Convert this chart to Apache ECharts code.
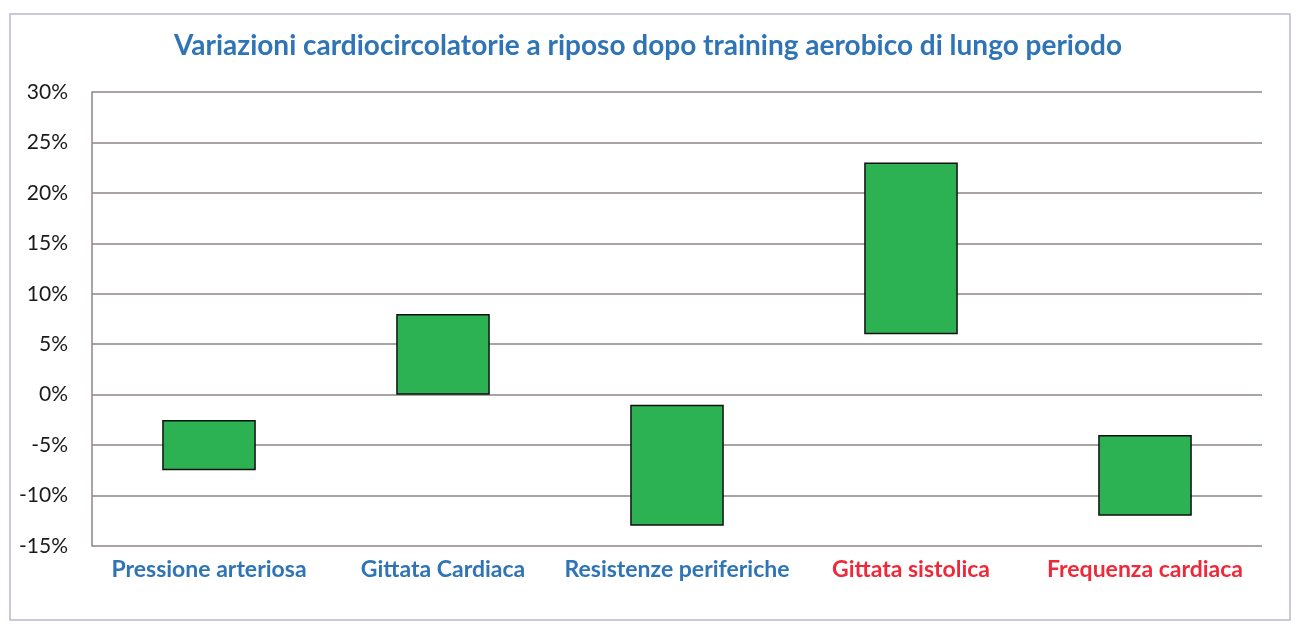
<!DOCTYPE html>
<html>
<head>
<meta charset="utf-8">
<script src="https://cdn.jsdelivr.net/npm/echarts@6/dist/echarts.min.js"></script>
<style>
  html, body { margin: 0; padding: 0; background: #fff; }
  #rangeChart { width: 1296px; height: 626px; }
</style>
</head>
<body>
<div id="rangeChart"></div>
<script>
// dati (variazioni %)
var categories = ["Pressione arteriosa", "Gittata Cardiaca", "Resistenze periferiche", "Gittata sistolica", "Frequenza cardiaca"];
var lowValues = [-7.5, 0, -13, 6, -12];
var highValues = [-2.5, 8, -1, 23, -4];
var labelColors = ["#2f74b5", "#2f74b5", "#2f74b5", "#ee2a3a", "#ee2a3a"];

var rangeValues = highValues.map(function (h, i) { return h - lowValues[i]; });

var chart = echarts.init(document.getElementById("rangeChart"));

var option = {
    animation: false,
    textStyle: { fontFamily: "Lato" },
    title: {
        text: "Variazioni cardiocircolatorie a riposo dopo training aerobico di lungo periodo",
        left: "center",
        top: 27,
        textStyle: {
            color: "#2f74b5",
            fontSize: 28,
            fontWeight: "bold",
            fontFamily: "Lato"
        }
    },
    graphic: [{
        type: "rect",
        shape: { x: 10, y: 14, width: 1280, height: 606 },
        style: { fill: "none", stroke: "#bdb5cf", lineWidth: 1.5 },
        silent: true
    }],
    grid: {
        left: 92,
        right: 34,
        top: 92,
        bottom: 80
    },
    xAxis: {
        type: "category",
        data: categories,
        axisLine: { show: false },
        axisTick: { show: false },
        axisLabel: {
            interval: 0,
            fontSize: 23,
            fontWeight: "bold",
            margin: 12,
            color: function (value, index) { return labelColors[index]; }
        }
    },
    yAxis: {
        type: "value",
        min: -15,
        max: 30,
        interval: 5,
        axisLine: { show: true, lineStyle: { color: "#8c8585", width: 1.5 } },
        axisTick: { show: false },
        axisLabel: {
            fontSize: 21,
            color: "#1a1a1a",
            margin: 24,
            formatter: "{value}%"
        },
        splitLine: { lineStyle: { color: "#8c8585", width: 1.5 } }
    },
    series: [{
        name: "base",
        type: "bar",
        stack: "range",
        stackStrategy: "all",
        barWidth: "40%",
        itemStyle: { color: "transparent" },
        silent: true,
        data: lowValues
    }, {
        name: "variazione",
        type: "bar",
        stack: "range",
        stackStrategy: "all",
        barWidth: "40%",
        itemStyle: {
            color: "#2db253",
            borderColor: "#111",
            borderWidth: 1.5
        },
        data: rangeValues
    }]
};
chart.setOption(option);
</script>
</body>
</html>
